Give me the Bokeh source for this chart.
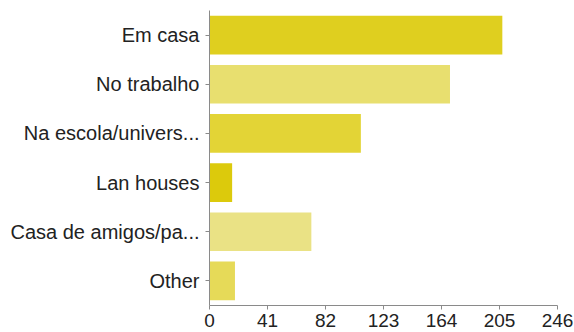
from bokeh.plotting import figure
from bokeh.models import FactorRange, Range1d, FixedTicker, ColumnDataSource
from bokeh.embed import file_html
from bokeh.resources import INLINE

categories = ["Em casa", "No trabalho", "Na escola/univers...", "Lan houses",
              "Casa de amigos/pa...", "Other"]
counts = [207, 170, 107, 16, 72, 18]
colors = ["#DFCF1F", "#E8DF6F", "#E3D436", "#DCCA0C", "#EAE285", "#E6DA58"]
x_ticks = [0, 41, 82, 123, 164, 205, 246]

src = ColumnDataSource(dict(cat=categories, val=counts, color=colors))

p = figure(width=574, height=332, output_backend="svg", toolbar_location=None,
           y_range=FactorRange(factors=categories[::-1], range_padding=0),
           x_range=Range1d(0, 246),
           min_border_left=209, min_border_right=17, min_border_top=10,
           min_border_bottom=27)

p.hbar(y="cat", right="val", left=0, height=0.785, color="color",
       line_color=None, source=src)

p.outline_line_color = None
p.xgrid.visible = False
p.ygrid.visible = False

for ax in (p.xaxis, p.yaxis):
    ax.axis_line_color = "#8a8a8a"
    ax.major_tick_line_color = "#8a8a8a"
    ax.minor_tick_line_color = None
    ax.major_tick_in = 0
    ax.major_tick_out = 4
    ax.major_label_text_font = "Liberation Sans"
    ax.major_label_text_color = "#222222"

p.xaxis.ticker = FixedTicker(ticks=x_ticks)
p.xaxis.major_label_text_font_size = "19px"
p.xaxis.major_label_standoff = 4
p.yaxis.major_label_text_font_size = "20px"
p.yaxis.major_label_standoff = 6

open("out.html", "w").write(file_html(p, INLINE))
